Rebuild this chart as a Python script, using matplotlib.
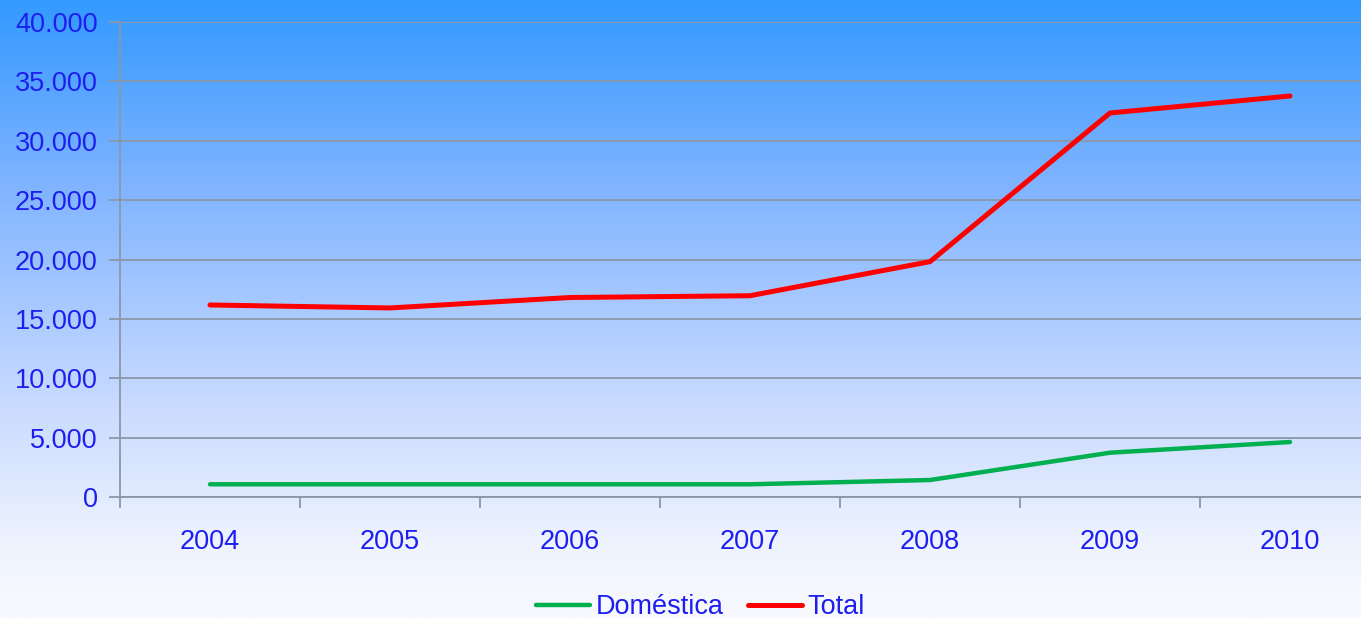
import matplotlib
matplotlib.use("Agg")
import matplotlib.pyplot as plt
import numpy as np
from matplotlib.colors import LinearSegmentedColormap
from matplotlib.ticker import FuncFormatter, FixedLocator

years = ["2004", "2005", "2006", "2007", "2008", "2009", "2010"]
domestica = [1070, 1070, 1070, 1070, 1430, 3730, 4630]
total = [16170, 15920, 16800, 16950, 19820, 32340, 33770]
y_ticks = [0, 5000, 10000, 15000, 20000, 25000, 30000, 35000, 40000]

W, H = 1361, 618
fig = plt.figure(figsize=(W / 100, H / 100), dpi=100)

# gradient background
bg = fig.add_axes([0, 0, 1, 1], zorder=0)
bg.set_axis_off()
cmap = LinearSegmentedColormap.from_list(
    "bg", [(0.0, "#f8faff"), (0.12, "#eef3fe"), (0.35, "#c8daff"), (0.7, "#80b4ff"), (1.0, "#3399ff")])
grad = np.linspace(0, 1, 256).reshape(-1, 1)
bg.imshow(grad, aspect="auto", cmap=cmap, origin="lower", extent=[0, 1, 0, 1])

left = 120 / W
bottom = (H - 497) / H
top = (H - 22) / H
ax = fig.add_axes([left, bottom, 1260 / W, top - bottom], zorder=1)
ax.patch.set_alpha(0)

x = np.arange(len(years))
ax.plot(x, domestica, color="#00b050", lw=3.2, solid_capstyle="round", label="Doméstica", zorder=3)
ax.plot(x, total, color="#ff0000", lw=3.6, solid_capstyle="round", label="Total", zorder=3)

ax.set_xlim(-0.5, len(years) - 0.5)
ax.set_ylim(0, 40000)
ax.yaxis.set_major_locator(FixedLocator(y_ticks))
ax.yaxis.set_major_formatter(FuncFormatter(lambda v, p: f"{int(v):,}".replace(",", ".")))
ax.grid(axis="y", color="#8b97a8", lw=1.3)
ax.set_axisbelow(True)

ax.xaxis.set_major_locator(FixedLocator(np.arange(len(years) + 1) - 0.5))
ax.xaxis.set_minor_locator(FixedLocator(x))
ax.set_xticklabels([])
ax.set_xticklabels(years, minor=True)
ax.tick_params(axis="x", which="major", length=8, width=1.3, color="#8b97a8", direction="out")
ax.tick_params(axis="x", which="minor", length=0, pad=23)
ax.tick_params(axis="y", length=8, width=1.3, color="#8b97a8", direction="out", pad=8)

font = "Liberation Sans"
tc = "#1e1ef0"
fs = 19.5
for lbl in ax.get_yticklabels() + ax.get_xticklabels(minor=True):
    lbl.set_fontfamily(font)
    lbl.set_fontsize(fs)
    lbl.set_color(tc)

for s in ["top", "right"]:
    ax.spines[s].set_visible(False)
for s in ["left", "bottom"]:
    ax.spines[s].set_color("#8b97a8")
    ax.spines[s].set_linewidth(1.3)

leg = fig.legend(loc="center", bbox_to_anchor=(0.5 + 20 / W, (H - 607) / H), ncol=2, frameon=False,
                 prop={"family": font, "size": fs}, handlelength=2.0, handletextpad=0.2,
                 columnspacing=0.9, labelcolor=tc)

fig.savefig("out.png", dpi=100)
